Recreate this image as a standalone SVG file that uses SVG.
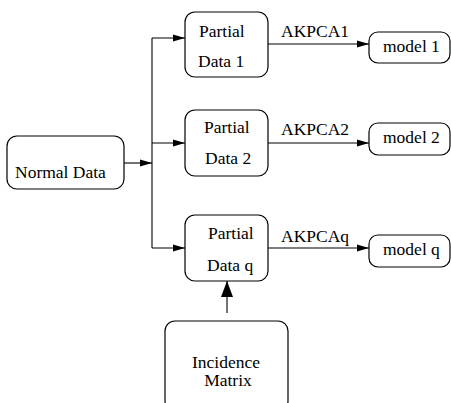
<svg xmlns="http://www.w3.org/2000/svg" width="451" height="403" viewBox="0 0 451 403">
<style>
.box{fill:#fff;stroke:#000;stroke-width:1.2}
.t{font-size:17.5px;fill:#000}
.c{text-anchor:middle}
.ln{fill:none;stroke:#000;stroke-width:1.1}
</style>
<defs>
<marker id="ah" viewBox="0 0 12 8" refX="12" refY="4" markerWidth="12" markerHeight="8" markerUnits="userSpaceOnUse" orient="auto">
<path d="M0,0.5 L12,4 L0,7.5 z" fill="#000"/>
</marker>
<marker id="big" viewBox="0 0 16 12" refX="16" refY="6" markerWidth="16" markerHeight="12" markerUnits="userSpaceOnUse" orient="auto">
<path d="M0,0 L16,6 L0,12 z" fill="#000"/>
</marker>
</defs>
<g font-family="Liberation Serif, Times New Roman, DejaVu Serif, serif">
<g id="connectors">
<path class="ln" d="M124,163 H152" marker-end="url(#ah)"/>
<path class="ln" d="M152,38 V248"/>
<path class="ln" d="M152,38 H185" marker-end="url(#ah)"/>
<path class="ln" d="M152,143 H185" marker-end="url(#ah)"/>
<path class="ln" d="M152,248 H185" marker-end="url(#ah)"/>
<path class="ln" d="M268,44 H369" marker-end="url(#ah)"/>
<path class="ln" d="M268,143 H369" marker-end="url(#ah)"/>
<path class="ln" d="M268,248 H369" marker-end="url(#ah)"/>
<path class="ln" d="M227,313 V281" marker-end="url(#big)"/>
<text class="t" x="281" y="37">AKPCA1</text>
<text class="t" x="281" y="135">AKPCA2</text>
<text class="t" x="281" y="242">AKPCAq</text>
</g>
<g id="normal">
<rect class="box" x="7" y="136" width="117" height="53" rx="10"/>
<text class="t" x="15" y="178">Normal Data</text>
</g>
<g id="partial1">
<rect class="box" x="185" y="12" width="83" height="65" rx="10"/>
<text class="t" x="199" y="37">Partial</text>
<text class="t" x="198" y="67">Data 1</text>
</g>
<g id="partial2">
<rect class="box" x="185" y="110" width="83" height="66" rx="10"/>
<text class="t" x="204" y="133">Partial</text>
<text class="t" x="205" y="164">Data 2</text>
</g>
<g id="partialq">
<rect class="box" x="185" y="215" width="83" height="66" rx="10"/>
<text class="t" x="208" y="239">Partial</text>
<text class="t" x="207" y="271">Data q</text>
</g>
<g id="model1">
<rect class="box" x="369" y="32" width="81" height="31" rx="9"/>
<text class="t" x="383" y="52">model 1</text>
</g>
<g id="model2">
<rect class="box" x="369" y="123" width="81" height="32" rx="9"/>
<text class="t" x="383" y="143">model 2</text>
</g>
<g id="modelq">
<rect class="box" x="369" y="235" width="81" height="32" rx="9"/>
<text class="t" x="383" y="255">model q</text>
</g>
<g id="incidence">
<rect class="box" x="165" y="321" width="123" height="90" rx="10"/>
<text class="t c" x="226" y="368">Incidence</text>
<text class="t c" x="228" y="386">Matrix</text>
</g>
</g>
</svg>
